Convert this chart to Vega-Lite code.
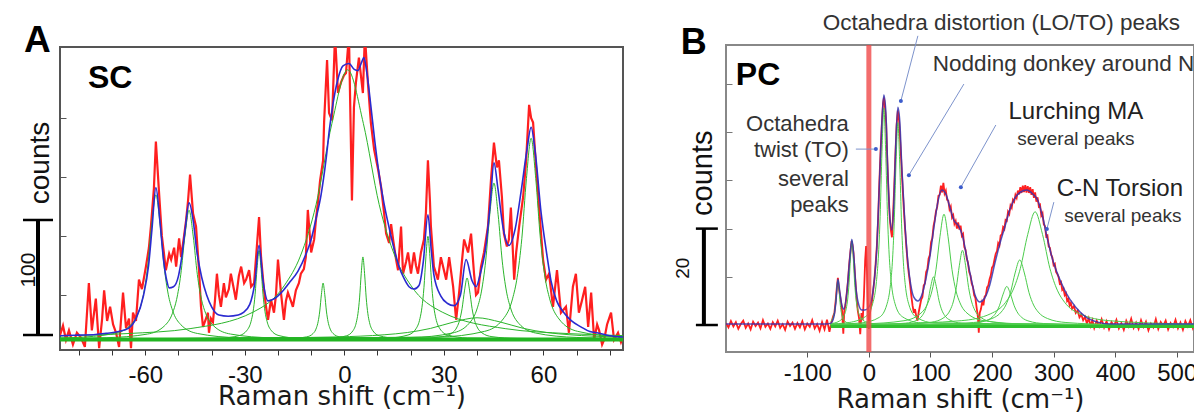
{
"$schema": "https://vega.github.io/schema/vega-lite/v6.json",
"padding": {"left": 17, "top": 10, "right": 0, "bottom": 0},
"bounds": "flush",
"spacing": 103,
"center": true,
"config": {"font": "Liberation Sans", "view": {"stroke": null}},
"datasets": {
"a_red": [{"x":-85.7,"y":16},{"x":-84.8,"y":24},{"x":-83.9,"y":12},{"x":-83.0,"y":20},{"x":-81.8,"y":8},{"x":-80.6,"y":18},{"x":-79.4,"y":14},{"x":-78.2,"y":6},{"x":-77.0,"y":60},{"x":-76.1,"y":20},{"x":-74.9,"y":47},{"x":-73.9,"y":5},{"x":-73.0,"y":30},{"x":-72.4,"y":54},{"x":-71.5,"y":28},{"x":-70.6,"y":40},{"x":-69.7,"y":25},{"x":-68.8,"y":18},{"x":-67.9,"y":6},{"x":-66.7,"y":52},{"x":-65.8,"y":22},{"x":-64.9,"y":30},{"x":-64.3,"y":5},{"x":-63.7,"y":35},{"x":-62.8,"y":28},{"x":-61.9,"y":63},{"x":-61.0,"y":55},{"x":-59.8,"y":74},{"x":-58.9,"y":90},{"x":-58.3,"y":108},{"x":-57.4,"y":140},{"x":-56.8,"y":180},{"x":-55.9,"y":139},{"x":-55.0,"y":100},{"x":-54.4,"y":86},{"x":-53.8,"y":71},{"x":-52.8,"y":85},{"x":-52.2,"y":80},{"x":-51.3,"y":90},{"x":-50.7,"y":74},{"x":-49.8,"y":98},{"x":-49.2,"y":82},{"x":-48.3,"y":100},{"x":-47.7,"y":113},{"x":-47.1,"y":130},{"x":-46.5,"y":152},{"x":-45.6,"y":119},{"x":-44.7,"y":108},{"x":-43.8,"y":71},{"x":-43.2,"y":40},{"x":-42.6,"y":23},{"x":-41.7,"y":30},{"x":-41.1,"y":35},{"x":-40.8,"y":18},{"x":-40.2,"y":30},{"x":-39.6,"y":27},{"x":-39.0,"y":45},{"x":-38.4,"y":68},{"x":-37.8,"y":50},{"x":-37.2,"y":40},{"x":-36.3,"y":60},{"x":-35.7,"y":48},{"x":-34.8,"y":55},{"x":-34.2,"y":68},{"x":-33.3,"y":55},{"x":-32.7,"y":46},{"x":-31.8,"y":66},{"x":-31.1,"y":74},{"x":-30.2,"y":60},{"x":-29.6,"y":63},{"x":-28.7,"y":71},{"x":-28.1,"y":57},{"x":-27.2,"y":60},{"x":-26.6,"y":82},{"x":-25.7,"y":116},{"x":-25.1,"y":82},{"x":-24.2,"y":54},{"x":-23.6,"y":40},{"x":-23.0,"y":29},{"x":-22.1,"y":46},{"x":-21.2,"y":35},{"x":-20.6,"y":50},{"x":-20.0,"y":80},{"x":-19.1,"y":52},{"x":-18.2,"y":29},{"x":-17.6,"y":45},{"x":-17.0,"y":52},{"x":-16.1,"y":45},{"x":-15.5,"y":40},{"x":-14.6,"y":54},{"x":-13.7,"y":60},{"x":-13.1,"y":68},{"x":-12.2,"y":72},{"x":-11.6,"y":82},{"x":-11.0,"y":122},{"x":-10.0,"y":86},{"x":-9.1,"y":97},{"x":-8.5,"y":115},{"x":-7.9,"y":130},{"x":-7.3,"y":147},{"x":-6.4,"y":164},{"x":-6.1,"y":196},{"x":-5.2,"y":249},{"x":-4.6,"y":204},{"x":-3.7,"y":198},{"x":-2.8,"y":270},{"x":-1.9,"y":221},{"x":-1.0,"y":230},{"x":-0.1,"y":236},{"x":0.5,"y":238},{"x":1.4,"y":270},{"x":2.3,"y":130},{"x":2.9,"y":209},{"x":3.5,"y":230},{"x":4.4,"y":251},{"x":5.6,"y":221},{"x":6.2,"y":270},{"x":7.1,"y":230},{"x":8.0,"y":196},{"x":9.0,"y":173},{"x":10.2,"y":156},{"x":11.1,"y":141},{"x":12.0,"y":119},{"x":12.6,"y":102},{"x":13.5,"y":94},{"x":14.1,"y":110},{"x":14.7,"y":97},{"x":15.6,"y":80},{"x":16.2,"y":71},{"x":17.1,"y":108},{"x":17.7,"y":68},{"x":18.6,"y":78},{"x":19.2,"y":86},{"x":20.1,"y":68},{"x":21.0,"y":86},{"x":21.6,"y":75},{"x":22.2,"y":68},{"x":23.1,"y":86},{"x":24.0,"y":97},{"x":24.6,"y":120},{"x":25.2,"y":164},{"x":25.8,"y":130},{"x":26.1,"y":108},{"x":27.0,"y":74},{"x":28.2,"y":63},{"x":29.1,"y":82},{"x":30.1,"y":70},{"x":30.7,"y":63},{"x":31.6,"y":82},{"x":32.8,"y":57},{"x":33.7,"y":29},{"x":34.6,"y":52},{"x":35.5,"y":80},{"x":36.1,"y":97},{"x":37.3,"y":86},{"x":38.2,"y":102},{"x":39.1,"y":68},{"x":39.7,"y":50},{"x":40.3,"y":52},{"x":41.2,"y":74},{"x":42.1,"y":86},{"x":43.3,"y":108},{"x":44.2,"y":147},{"x":45.1,"y":179},{"x":46.0,"y":158},{"x":46.6,"y":164},{"x":47.5,"y":133},{"x":48.1,"y":102},{"x":49.0,"y":91},{"x":49.6,"y":97},{"x":50.2,"y":124},{"x":51.2,"y":63},{"x":51.8,"y":86},{"x":52.7,"y":108},{"x":53.9,"y":133},{"x":54.8,"y":164},{"x":55.7,"y":211},{"x":56.3,"y":200},{"x":56.9,"y":196},{"x":57.8,"y":158},{"x":58.7,"y":124},{"x":59.9,"y":80},{"x":60.8,"y":63},{"x":61.7,"y":68},{"x":62.9,"y":40},{"x":64.1,"y":71},{"x":65.3,"y":35},{"x":66.8,"y":40},{"x":67.7,"y":18},{"x":68.9,"y":57},{"x":69.8,"y":68},{"x":70.7,"y":35},{"x":71.6,"y":45},{"x":72.6,"y":57},{"x":73.5,"y":23},{"x":74.4,"y":52},{"x":75.3,"y":12},{"x":76.2,"y":25},{"x":76.8,"y":20},{"x":77.7,"y":8},{"x":78.3,"y":12},{"x":79.2,"y":25},{"x":80.4,"y":35},{"x":81.3,"y":12},{"x":82.5,"y":18},{"x":83.4,"y":10},{"x":84.0,"y":14}],
"a_fit": [{"x":-85.7,"y":15.5},{"x":-80,"y":16},{"x":-75,"y":16.5},{"x":-71.8,"y":17.5},{"x":-68,"y":19},{"x":-65,"y":22},{"x":-62.8,"y":30},{"x":-60.5,"y":50},{"x":-59,"y":75},{"x":-58,"y":105},{"x":-56.8,"y":141},{"x":-55.5,"y":110},{"x":-54.5,"y":80},{"x":-53.5,"y":62},{"x":-52.8,"y":56},{"x":-51.5,"y":57},{"x":-50,"y":66},{"x":-49,"y":82},{"x":-48,"y":105},{"x":-46.8,"y":128},{"x":-45.5,"y":112},{"x":-44.5,"y":88},{"x":-43,"y":65},{"x":-41.5,"y":50},{"x":-40,"y":40},{"x":-37.8,"y":33},{"x":-35,"y":32},{"x":-32,"y":33},{"x":-30.5,"y":35},{"x":-28.5,"y":42},{"x":-27,"y":60},{"x":-25.7,"y":92},{"x":-24.5,"y":62},{"x":-23,"y":45},{"x":-21,"y":47},{"x":-19,"y":52},{"x":-16.7,"y":60},{"x":-14,"y":70},{"x":-11.5,"y":85},{"x":-10,"y":97},{"x":-8.5,"y":115},{"x":-7,"y":135},{"x":-5.5,"y":165},{"x":-4.5,"y":190},{"x":-3.4,"y":212},{"x":-2,"y":232},{"x":-0.4,"y":244},{"x":1.4,"y":246},{"x":3,"y":241},{"x":4.1,"y":240},{"x":5.2,"y":247},{"x":5.9,"y":251},{"x":6.8,"y":238},{"x":8,"y":210},{"x":9.2,"y":180},{"x":10.5,"y":152},{"x":12,"y":127},{"x":13.5,"y":107},{"x":15,"y":89},{"x":16.5,"y":74},{"x":18,"y":64},{"x":19.5,"y":57},{"x":21,"y":55},{"x":22.5,"y":58},{"x":23.8,"y":78},{"x":25.2,"y":118},{"x":26.2,"y":88},{"x":27,"y":67},{"x":29.1,"y":49},{"x":31,"y":43},{"x":33.1,"y":41},{"x":35,"y":50},{"x":36.7,"y":80},{"x":38.5,"y":62},{"x":39.7,"y":57},{"x":41,"y":68},{"x":42.7,"y":92},{"x":44,"y":128},{"x":45.1,"y":162},{"x":46.3,"y":140},{"x":47.8,"y":108},{"x":49.6,"y":92},{"x":51.5,"y":106},{"x":53.3,"y":138},{"x":55,"y":172},{"x":56.3,"y":192},{"x":57.5,"y":172},{"x":59.3,"y":120},{"x":61,"y":85},{"x":62.3,"y":62},{"x":64,"y":45},{"x":66.2,"y":35},{"x":68.5,"y":28},{"x":71.3,"y":23},{"x":74,"y":19},{"x":76.5,"y":17.8},{"x":80,"y":15.5},{"x":84,"y":14.4}],
"a_comp": [
{"c":"g1","x":-85.7,"y":13.6},{"c":"g1","x":-81.8,"y":13.9},{"c":"g1","x":-69.3,"y":17.4},{"c":"g1","x":-64.3,"y":24.9},{"c":"g1","x":-61.8,"y":37.1},{"c":"g1","x":-60.55,"y":50.2},{"c":"g1","x":-59.3,"y":73.7},{"c":"g1","x":-58.05,"y":110.3},{"c":"g1","x":-56.8,"y":134.7},{"c":"g1","x":-55.55,"y":110.3},{"c":"g1","x":-54.3,"y":73.7},{"c":"g1","x":-53.05,"y":50.2},{"c":"g1","x":-51.8,"y":37.1},{"c":"g1","x":-49.3,"y":24.9},{"c":"g1","x":-44.3,"y":17.4},{"c":"g1","x":-31.8,"y":13.9},{"c":"g1","x":84,"y":12.8},
{"c":"g2","x":-85.7,"y":13.2},{"c":"g2","x":-71.8,"y":13.8},{"c":"g2","x":-59.3,"y":16.9},{"c":"g2","x":-54.3,"y":23.6},{"c":"g2","x":-51.8,"y":34.5},{"c":"g2","x":-50.55,"y":46.2},{"c":"g2","x":-49.3,"y":67.2},{"c":"g2","x":-48.05,"y":99.9},{"c":"g2","x":-46.8,"y":121.7},{"c":"g2","x":-45.55,"y":99.9},{"c":"g2","x":-44.3,"y":67.2},{"c":"g2","x":-43.05,"y":46.2},{"c":"g2","x":-41.8,"y":34.5},{"c":"g2","x":-39.3,"y":23.6},{"c":"g2","x":-34.3,"y":16.9},{"c":"g2","x":-21.8,"y":13.8},{"c":"g2","x":84,"y":12.7},
{"c":"g3","x":-85.7,"y":12.7},{"c":"g3","x":-37.7,"y":13.4},{"c":"g3","x":-31.7,"y":15.6},{"c":"g3","x":-29.3,"y":20.2},{"c":"g3","x":-28.1,"y":27.7},{"c":"g3","x":-27.5,"y":35.8},{"c":"g3","x":-26.9,"y":50.2},{"c":"g3","x":-26.3,"y":72.7},{"c":"g3","x":-25.7,"y":87.7},{"c":"g3","x":-25.1,"y":72.7},{"c":"g3","x":-24.5,"y":50.2},{"c":"g3","x":-23.9,"y":35.8},{"c":"g3","x":-23.3,"y":27.7},{"c":"g3","x":-22.1,"y":20.2},{"c":"g3","x":-19.7,"y":15.6},{"c":"g3","x":-13.7,"y":13.4},{"c":"g3","x":84,"y":12.7},
{"c":"g4","x":-85.7,"y":15.4},{"c":"g4","x":-65.5,"y":17.3},{"c":"g4","x":-46.5,"y":21.5},{"c":"g4","x":-27.5,"y":35.5},{"c":"g4","x":-18,"y":58.3},{"c":"g4","x":-13.25,"y":82.9},{"c":"g4","x":-8.5,"y":126.7},{"c":"g4","x":-3.75,"y":195.1},{"c":"g4","x":1,"y":240.7},{"c":"g4","x":5.75,"y":195.1},{"c":"g4","x":10.5,"y":126.7},{"c":"g4","x":15.25,"y":82.9},{"c":"g4","x":20,"y":58.3},{"c":"g4","x":29.5,"y":35.5},{"c":"g4","x":48.5,"y":21.5},{"c":"g4","x":67.5,"y":17.3},{"c":"g4","x":84,"y":15.6},
{"c":"g5","x":-85.7,"y":12.7},{"c":"g5","x":-16.4,"y":13.2},{"c":"g5","x":-11.4,"y":14.5},{"c":"g5","x":-9.4,"y":17.4},{"c":"g5","x":-8.4,"y":22.2},{"c":"g5","x":-7.9,"y":27.3},{"c":"g5","x":-7.4,"y":36.4},{"c":"g5","x":-6.9,"y":50.6},{"c":"g5","x":-6.4,"y":60.1},{"c":"g5","x":-5.9,"y":50.6},{"c":"g5","x":-5.4,"y":36.4},{"c":"g5","x":-4.9,"y":27.3},{"c":"g5","x":-4.4,"y":22.2},{"c":"g5","x":-3.4,"y":17.4},{"c":"g5","x":-1.4,"y":14.5},{"c":"g5","x":3.6,"y":13.2},{"c":"g5","x":84,"y":12.7},
{"c":"g6","x":-85.7,"y":12.7},{"c":"g6","x":-4.4,"y":13.4},{"c":"g6","x":0.6,"y":15.4},{"c":"g6","x":2.6,"y":19.7},{"c":"g6","x":3.6,"y":26.6},{"c":"g6","x":4.1,"y":34.1},{"c":"g6","x":4.6,"y":47.5},{"c":"g6","x":5.1,"y":68.3},{"c":"g6","x":5.6,"y":82.2},{"c":"g6","x":6.1,"y":68.3},{"c":"g6","x":6.6,"y":47.5},{"c":"g6","x":7.1,"y":34.1},{"c":"g6","x":7.6,"y":26.6},{"c":"g6","x":8.6,"y":19.7},{"c":"g6","x":10.6,"y":15.4},{"c":"g6","x":15.6,"y":13.4},{"c":"g6","x":84,"y":12.7},
{"c":"g7","x":-85.7,"y":12.7},{"c":"g7","x":13.2,"y":13.6},{"c":"g7","x":19.2,"y":16.1},{"c":"g7","x":21.6,"y":21.4},{"c":"g7","x":22.8,"y":30.1},{"c":"g7","x":23.4,"y":39.5},{"c":"g7","x":24.0,"y":56.2},{"c":"g7","x":24.6,"y":82.3},{"c":"g7","x":25.2,"y":99.7},{"c":"g7","x":25.8,"y":82.3},{"c":"g7","x":26.4,"y":56.2},{"c":"g7","x":27.0,"y":39.5},{"c":"g7","x":27.6,"y":30.1},{"c":"g7","x":28.8,"y":21.4},{"c":"g7","x":31.2,"y":16.1},{"c":"g7","x":37.2,"y":13.6},{"c":"g7","x":84,"y":12.7},
{"c":"g8","x":-85.7,"y":12.7},{"c":"g8","x":22,"y":13.2},{"c":"g8","x":29.5,"y":14.7},{"c":"g8","x":32.5,"y":17.9},{"c":"g8","x":34,"y":23.0},{"c":"g8","x":34.75,"y":28.6},{"c":"g8","x":35.5,"y":38.6},{"c":"g8","x":36.25,"y":54.1},{"c":"g8","x":37,"y":64.4},{"c":"g8","x":37.75,"y":54.1},{"c":"g8","x":38.5,"y":38.6},{"c":"g8","x":39.25,"y":28.6},{"c":"g8","x":40,"y":23.0},{"c":"g8","x":41.5,"y":17.9},{"c":"g8","x":44.5,"y":14.7},{"c":"g8","x":52,"y":13.2},{"c":"g8","x":84,"y":12.7},
{"c":"g9","x":-85.7,"y":12.8},{"c":"g9","x":20.1,"y":14.0},{"c":"g9","x":32.6,"y":17.8},{"c":"g9","x":37.6,"y":25.9},{"c":"g9","x":40.1,"y":39.1},{"c":"g9","x":41.35,"y":53.3},{"c":"g9","x":42.6,"y":78.7},{"c":"g9","x":43.85,"y":118.3},{"c":"g9","x":45.1,"y":144.7},{"c":"g9","x":46.35,"y":118.3},{"c":"g9","x":47.6,"y":78.7},{"c":"g9","x":48.85,"y":53.3},{"c":"g9","x":50.1,"y":39.1},{"c":"g9","x":52.6,"y":25.9},{"c":"g9","x":57.6,"y":17.8},{"c":"g9","x":70.1,"y":14.0},{"c":"g9","x":84,"y":13.2},
{"c":"g10","x":-85.7,"y":12.9},{"c":"g10","x":28.3,"y":14.4},{"c":"g10","x":42.3,"y":19.2},{"c":"g10","x":47.9,"y":29.7},{"c":"g10","x":50.7,"y":46.7},{"c":"g10","x":52.1,"y":65.0},{"c":"g10","x":53.5,"y":97.7},{"c":"g10","x":54.9,"y":148.7},{"c":"g10","x":56.3,"y":182.7},{"c":"g10","x":57.7,"y":148.7},{"c":"g10","x":59.1,"y":97.7},{"c":"g10","x":60.5,"y":65.0},{"c":"g10","x":61.9,"y":46.7},{"c":"g10","x":64.7,"y":29.7},{"c":"g10","x":70.3,"y":19.2},{"c":"g10","x":84,"y":14.4},
{"c":"g11","x":-85.7,"y":12.9},{"c":"g11","x":-30,"y":13.4},{"c":"g11","x":-2,"y":14.5},{"c":"g11","x":12,"y":16.3},{"c":"g11","x":19,"y":18.2},{"c":"g11","x":26,"y":21.7},{"c":"g11","x":33,"y":27.1},{"c":"g11","x":40,"y":30.7},{"c":"g11","x":47,"y":27.1},{"c":"g11","x":54,"y":21.7},{"c":"g11","x":61,"y":18.2},{"c":"g11","x":68,"y":16.3},{"c":"g11","x":82,"y":14.5},{"c":"g11","x":84,"y":14.4}
],
"a_base": [{"x":-85.7,"y":12.2},{"x":84,"y":12.2}],
"a_bar": [{"x":-92.33,"y":16.1,"y2":113.5}],
"a_caps": [{"x":-96.85,"x2":-87.81,"y":16.1},{"x":-96.85,"x2":-87.81,"y":113.5}],
"a_big": [{"x":-96.55,"y":265.1,"t":"A"}],
"a_sc": [{"x":-77.26,"y":233.8,"t":"SC"}],
"a_counts": [{"x":-91.43,"y":161.8,"t":"counts"}],
"a_100": [{"x":-95.04,"y":71.1,"t":"100"}],
"b_red": [{"x":-232,"y":0.4},{"x":-228,"y":-0.5},{"x":-224,"y":0.8},{"x":-220,"y":-0.3},{"x":-216,"y":0.6},{"x":-212,"y":-0.8},{"x":-208,"y":0.2},{"x":-204,"y":0.9},{"x":-200,"y":-0.6},{"x":-196,"y":0.3},{"x":-192,"y":-0.9},{"x":-188,"y":0.7},{"x":-184,"y":-0.2},{"x":-180,"y":0.5},{"x":-176,"y":-0.7},{"x":-172,"y":1.0},{"x":-168,"y":-0.4},{"x":-164,"y":0.3},{"x":-160,"y":-0.8},{"x":-156,"y":0.6},{"x":-152,"y":-0.3},{"x":-148,"y":0.9},{"x":-144,"y":-0.6},{"x":-140,"y":0.2},{"x":-136,"y":-1.0},{"x":-132,"y":0.7},{"x":-128,"y":-0.2},{"x":-124,"y":0.5},{"x":-120,"y":-0.8},{"x":-116,"y":0.4},{"x":-112,"y":-0.5},{"x":-108,"y":0.8},{"x":-104,"y":-0.9},{"x":-100,"y":0.3},{"x":-96,"y":-0.4},{"x":-92,"y":1.0},{"x":-88,"y":-0.7},{"x":-84,"y":0.2},{"x":-80,"y":-1.2},{"x":-76,"y":0.6},{"x":-72,"y":-0.9},{"x":-68,"y":1.1},{"x":-64,"y":-1.4},{"x":-61,"y":0.5},{"x":-58,"y":1.8},{"x":-56,"y":2.5},{"x":-54,"y":4.9},{"x":-52,"y":7.8},{"x":-50.3,"y":9.8},{"x":-48.5,"y":7.5},{"x":-47,"y":6.3},{"x":-45,"y":4.6},{"x":-43.5,"y":3.0},{"x":-41.5,"y":-1.8},{"x":-40,"y":2.8},{"x":-38,"y":4.2},{"x":-36,"y":6.5},{"x":-34,"y":9.0},{"x":-32,"y":12.5},{"x":-30,"y":15.2},{"x":-28,"y":17.4},{"x":-26.5,"y":16.6},{"x":-25,"y":15.0},{"x":-23,"y":11.2},{"x":-21,"y":7.6},{"x":-19.5,"y":4.9},{"x":-18,"y":3.0},{"x":-16,"y":1.5},{"x":-14,"y":-1.9},{"x":-12,"y":2.5},{"x":-10,"y":1.0},{"x":-8,"y":6.0},{"x":-6,"y":13.5},{"x":-4.5,"y":16.4},{"x":-3,"y":11.0},{"x":-1.5,"y":3.5},{"x":0,"y":-0.8},{"x":1.5,"y":2.2},{"x":3,"y":3.5},{"x":5,"y":4.8},{"x":7,"y":7.2},{"x":9,"y":9.5},{"x":11,"y":12.8},{"x":13,"y":16.5},{"x":15,"y":22.0},{"x":17,"y":29.5},{"x":19,"y":36.0},{"x":21,"y":41.5},{"x":23,"y":46.0},{"x":24.5,"y":47.2},{"x":26,"y":45.5},{"x":28,"y":42.0},{"x":30,"y":34.0},{"x":32,"y":27.5},{"x":34,"y":22.0},{"x":36,"y":19.5},{"x":37.5,"y":18.2},{"x":39,"y":22.0},{"x":41,"y":28.0},{"x":43,"y":35.0},{"x":45,"y":41.5},{"x":47,"y":44.5},{"x":49,"y":42.5},{"x":51,"y":38.0},{"x":53,"y":33.0},{"x":55,"y":28.0},{"x":57,"y":23.5},{"x":59,"y":19.5},{"x":61,"y":16.0},{"x":63,"y":12.8},{"x":65,"y":10.5},{"x":67,"y":8.5},{"x":69,"y":6.0},{"x":71,"y":4.0},{"x":73,"y":2.5},{"x":75,"y":3.3},{"x":77,"y":1.8},{"x":79,"y":0.9},{"x":81,"y":2.7},{"x":83,"y":4.0},{"x":85,"y":5.3},{"x":87,"y":5.8},{"x":89,"y":8.2},{"x":91,"y":8.6},{"x":93,"y":11.0},{"x":95,"y":11.6},{"x":97,"y":13.8},{"x":99,"y":14.5},{"x":101,"y":17.2},{"x":103,"y":18.0},{"x":105,"y":20.5},{"x":107,"y":21.8},{"x":109,"y":23.6},{"x":111,"y":24.5},{"x":113,"y":26.8},{"x":115,"y":27.0},{"x":117,"y":28.9},{"x":119,"y":27.5},{"x":121,"y":29.5},{"x":123,"y":27.3},{"x":125,"y":27.9},{"x":127,"y":26.0},{"x":129,"y":25.8},{"x":131,"y":24.0},{"x":133,"y":24.6},{"x":135,"y":22.3},{"x":137,"y":22.8},{"x":139,"y":21.0},{"x":141,"y":21.6},{"x":143,"y":20.0},{"x":145,"y":21.3},{"x":147,"y":19.8},{"x":149,"y":20.6},{"x":151,"y":18.5},{"x":153,"y":18.9},{"x":155,"y":16.2},{"x":157,"y":15.6},{"x":159,"y":13.8},{"x":161,"y":12.9},{"x":163,"y":11.0},{"x":165,"y":10.3},{"x":167,"y":8.6},{"x":169,"y":7.9},{"x":171,"y":6.2},{"x":173,"y":5.6},{"x":175,"y":3.6},{"x":177,"y":1.8},{"x":178.5,"y":-1.6},{"x":180,"y":2.5},{"x":182,"y":3.3},{"x":184,"y":4.8},{"x":186,"y":4.1},{"x":188,"y":5.9},{"x":190,"y":6.2},{"x":192,"y":7.8},{"x":194,"y":8.2},{"x":196,"y":9.5},{"x":198,"y":10.3},{"x":200,"y":11.9},{"x":202,"y":12.3},{"x":204,"y":13.6},{"x":206,"y":14.8},{"x":208,"y":15.3},{"x":210,"y":17.0},{"x":212,"y":16.5},{"x":214,"y":18.6},{"x":216,"y":18.8},{"x":218,"y":20.3},{"x":220,"y":19.9},{"x":222,"y":21.8},{"x":224,"y":21.6},{"x":226,"y":23.5},{"x":228,"y":23.0},{"x":230,"y":24.8},{"x":232,"y":24.3},{"x":234,"y":26.0},{"x":236,"y":25.6},{"x":238,"y":27.0},{"x":240,"y":26.4},{"x":242,"y":27.9},{"x":244,"y":27.1},{"x":246,"y":28.6},{"x":248,"y":27.4},{"x":250,"y":28.9},{"x":252,"y":27.6},{"x":254,"y":29.0},{"x":256,"y":27.5},{"x":258,"y":28.8},{"x":260,"y":27.4},{"x":262,"y":28.6},{"x":264,"y":27.0},{"x":266,"y":28.2},{"x":268,"y":26.4},{"x":270,"y":27.5},{"x":272,"y":25.6},{"x":274,"y":26.5},{"x":276,"y":24.6},{"x":278,"y":24.9},{"x":280,"y":22.7},{"x":282,"y":23.2},{"x":284,"y":20.9},{"x":286,"y":20.5},{"x":288,"y":18.4},{"x":290,"y":18.6},{"x":292,"y":16.3},{"x":294,"y":16.0},{"x":296,"y":14.6},{"x":298,"y":14.0},{"x":300,"y":12.4},{"x":302,"y":12.7},{"x":304,"y":11.0},{"x":306,"y":10.6},{"x":308,"y":10.0},{"x":310,"y":8.6},{"x":312,"y":8.9},{"x":314,"y":7.3},{"x":316,"y":7.6},{"x":318,"y":6.2},{"x":320,"y":6.6},{"x":322,"y":5.0},{"x":324,"y":5.4},{"x":326,"y":4.1},{"x":328,"y":4.6},{"x":330,"y":3.4},{"x":333,"y":3.9},{"x":336,"y":2.5},{"x":339,"y":3.0},{"x":342,"y":1.6},{"x":345,"y":2.2},{"x":348,"y":1.0},{"x":351,"y":1.7},{"x":354,"y":0.3},{"x":357,"y":1.4},{"x":360,"y":-0.2},{"x":363,"y":1.0},{"x":366,"y":-0.6},{"x":370,"y":0.9},{"x":374,"y":-0.3},{"x":378,"y":1.2},{"x":382,"y":-0.5},{"x":386,"y":0.8},{"x":390,"y":-0.9},{"x":394,"y":0.6},{"x":398,"y":-0.2},{"x":402,"y":1.1},{"x":406,"y":-0.7},{"x":410,"y":0.4},{"x":414,"y":-1.0},{"x":418,"y":0.9},{"x":422,"y":-0.3},{"x":426,"y":1.3},{"x":430,"y":-0.6},{"x":434,"y":0.5},{"x":438,"y":-0.8},{"x":442,"y":1.0},{"x":446,"y":-0.4},{"x":450,"y":0.7},{"x":454,"y":-1.1},{"x":458,"y":0.3},{"x":462,"y":-0.5},{"x":466,"y":1.2},{"x":470,"y":-0.8},{"x":474,"y":0.6},{"x":478,"y":-0.2},{"x":482,"y":0.9},{"x":486,"y":-0.9},{"x":490,"y":0.4},{"x":494,"y":-0.4},{"x":498,"y":1.1},{"x":502,"y":-0.7},{"x":506,"y":0.5},{"x":510,"y":-1.0},{"x":514,"y":0.8},{"x":518,"y":-0.3},{"x":522,"y":1.0},{"x":526,"y":-0.6},{"x":528,"y":0.3}],
"b_fit": [{"x":-232,"y":0.2},{"x":-150,"y":0.2},{"x":-69.8,"y":0.2},{"x":-61.7,"y":0.4},{"x":-56.8,"y":1.7},{"x":-53.5,"y":4.8},{"x":-50.3,"y":9.5},{"x":-47.1,"y":6.8},{"x":-43.8,"y":4.1},{"x":-40.6,"y":3.3},{"x":-35.7,"y":6.8},{"x":-30.8,"y":14.1},{"x":-27.6,"y":17.8},{"x":-24.3,"y":14.1},{"x":-21.1,"y":7.9},{"x":-16.2,"y":4.1},{"x":-11.4,"y":3.1},{"x":-6.5,"y":3.1},{"x":0,"y":3.7},{"x":6.5,"y":6.8},{"x":13.0,"y":16.2},{"x":17.8,"y":31.7},{"x":21.1,"y":42.1},{"x":24.3,"y":47.7},{"x":27.6,"y":44.2},{"x":30.8,"y":31.7},{"x":34.1,"y":22.4},{"x":37.3,"y":19.7},{"x":40.6,"y":25.5},{"x":43.8,"y":38.0},{"x":47.1,"y":45.2},{"x":50.3,"y":42.1},{"x":53.5,"y":32.8},{"x":58.4,"y":21.4},{"x":63.3,"y":13.1},{"x":68.1,"y":8.3},{"x":73.0,"y":5.8},{"x":79.5,"y":5.0},{"x":86.0,"y":6.2},{"x":92.5,"y":9.5},{"x":99.0,"y":14.1},{"x":105.5,"y":20.1},{"x":112.0,"y":25.5},{"x":118.4,"y":28.0},{"x":124.9,"y":27.2},{"x":131.4,"y":24.5},{"x":137.9,"y":21.8},{"x":146.0,"y":20.5},{"x":152.5,"y":18.3},{"x":159.0,"y":14.1},{"x":165.5,"y":10.0},{"x":172.0,"y":6.4},{"x":180.1,"y":4.8},{"x":188.2,"y":5.6},{"x":196.3,"y":8.3},{"x":204.4,"y":12.7},{"x":212.6,"y":16.8},{"x":220.7,"y":20.3},{"x":228.8,"y":23.9},{"x":236.9,"y":26.3},{"x":246.6,"y":27.6},{"x":256.4,"y":28.0},{"x":266.1,"y":27.2},{"x":274.2,"y":25.9},{"x":282.3,"y":22.4},{"x":290.4,"y":17.6},{"x":298.6,"y":13.5},{"x":308.3,"y":10.0},{"x":319.7,"y":6.8},{"x":335.9,"y":3.7},{"x":352.1,"y":1.7},{"x":371.6,"y":0.6},{"x":392.7,"y":0.2},{"x":528,"y":0.2}],
"b_comp": [
{"c":"b1","x":-62,"y":0.76},{"c":"b1","x":-60.8,"y":0.93},{"c":"b1","x":-57.3,"y":1.86},{"c":"b1","x":-55.55,"y":2.86},{"c":"b1","x":-53.8,"y":4.65},{"c":"b1","x":-52.05,"y":7.44},{"c":"b1","x":-50.3,"y":9.3},{"c":"b1","x":-48.55,"y":7.44},{"c":"b1","x":-46.8,"y":4.65},{"c":"b1","x":-45.05,"y":2.86},{"c":"b1","x":-43.3,"y":1.86},{"c":"b1","x":-39.8,"y":0.93},{"c":"b1","x":-32.8,"y":0.36},{"c":"b1","x":-15.3,"y":0.09},{"c":"b1","x":528,"y":0},
{"c":"b2","x":-62,"y":0.29},{"c":"b2","x":-50.1,"y":0.67},{"c":"b2","x":-41.1,"y":1.75},{"c":"b2","x":-36.6,"y":3.5},{"c":"b2","x":-34.35,"y":5.38},{"c":"b2","x":-32.1,"y":8.75},{"c":"b2","x":-29.85,"y":14},{"c":"b2","x":-27.6,"y":17.5},{"c":"b2","x":-25.35,"y":14},{"c":"b2","x":-23.1,"y":8.75},{"c":"b2","x":-20.85,"y":5.38},{"c":"b2","x":-18.6,"y":3.5},{"c":"b2","x":-14.1,"y":1.75},{"c":"b2","x":-5.1,"y":0.67},{"c":"b2","x":17.4,"y":0.17},{"c":"b2","x":528,"y":0},
{"c":"b3","x":-62,"y":0.22},{"c":"b3","x":-35.7,"y":0.45},{"c":"b3","x":-5.7,"y":1.73},{"c":"b3","x":6.3,"y":4.5},{"c":"b3","x":12.3,"y":9},{"c":"b3","x":15.3,"y":13.85},{"c":"b3","x":18.3,"y":22.5},{"c":"b3","x":21.3,"y":36},{"c":"b3","x":24.3,"y":45},{"c":"b3","x":27.3,"y":36},{"c":"b3","x":30.3,"y":22.5},{"c":"b3","x":33.3,"y":13.85},{"c":"b3","x":36.3,"y":9},{"c":"b3","x":42.3,"y":4.5},{"c":"b3","x":54.3,"y":1.73},{"c":"b3","x":84.3,"y":0.45},{"c":"b3","x":528,"y":0},
{"c":"b4","x":-62,"y":0.13},{"c":"b4","x":-12.9,"y":0.42},{"c":"b4","x":17.1,"y":1.6},{"c":"b4","x":29.1,"y":4.2},{"c":"b4","x":35.1,"y":8.4},{"c":"b4","x":38.1,"y":12.9},{"c":"b4","x":41.1,"y":21},{"c":"b4","x":44.1,"y":33.6},{"c":"b4","x":47.1,"y":42},{"c":"b4","x":50.1,"y":33.6},{"c":"b4","x":53.1,"y":21},{"c":"b4","x":56.1,"y":12.9},{"c":"b4","x":59.1,"y":8.4},{"c":"b4","x":65.1,"y":4.2},{"c":"b4","x":77.1,"y":1.6},{"c":"b4","x":107.1,"y":0.42},{"c":"b4","x":528,"y":0},
{"c":"b5","x":-62,"y":0.03},{"c":"b5","x":15,"y":0.1},{"c":"b5","x":60,"y":0.385},{"c":"b5","x":78,"y":1},{"c":"b5","x":87,"y":2},{"c":"b5","x":91.5,"y":3.08},{"c":"b5","x":96,"y":5},{"c":"b5","x":100.5,"y":8},{"c":"b5","x":105,"y":10},{"c":"b5","x":109.5,"y":8},{"c":"b5","x":114,"y":5},{"c":"b5","x":118.5,"y":3.08},{"c":"b5","x":123,"y":2},{"c":"b5","x":132,"y":1},{"c":"b5","x":150,"y":0.385},{"c":"b5","x":195,"y":0.1},{"c":"b5","x":528,"y":0},
{"c":"b6","x":-62,"y":0.11},{"c":"b6","x":-8,"y":0.23},{"c":"b6","x":57,"y":0.89},{"c":"b6","x":83,"y":2.3},{"c":"b6","x":96,"y":4.6},{"c":"b6","x":102.5,"y":7.08},{"c":"b6","x":109,"y":11.5},{"c":"b6","x":115.5,"y":18.4},{"c":"b6","x":122,"y":23},{"c":"b6","x":128.5,"y":18.4},{"c":"b6","x":135,"y":11.5},{"c":"b6","x":141.5,"y":7.08},{"c":"b6","x":148,"y":4.6},{"c":"b6","x":161,"y":2.3},{"c":"b6","x":187,"y":0.89},{"c":"b6","x":252,"y":0.23},{"c":"b6","x":528,"y":0},
{"c":"b7","x":-62,"y":0.03},{"c":"b7","x":52,"y":0.155},{"c":"b7","x":102,"y":0.6},{"c":"b7","x":122,"y":1.55},{"c":"b7","x":132,"y":3.1},{"c":"b7","x":137,"y":4.77},{"c":"b7","x":142,"y":7.75},{"c":"b7","x":147,"y":12.4},{"c":"b7","x":152,"y":15.5},{"c":"b7","x":157,"y":12.4},{"c":"b7","x":162,"y":7.75},{"c":"b7","x":167,"y":4.77},{"c":"b7","x":172,"y":3.1},{"c":"b7","x":182,"y":1.55},{"c":"b7","x":202,"y":0.6},{"c":"b7","x":252,"y":0.155},{"c":"b7","x":528,"y":0},
{"c":"b8","x":-62,"y":0.01},{"c":"b8","x":104,"y":0.08},{"c":"b8","x":164,"y":0.31},{"c":"b8","x":188,"y":0.8},{"c":"b8","x":200,"y":1.6},{"c":"b8","x":206,"y":2.46},{"c":"b8","x":212,"y":4},{"c":"b8","x":218,"y":6.4},{"c":"b8","x":224,"y":8},{"c":"b8","x":230,"y":6.4},{"c":"b8","x":236,"y":4},{"c":"b8","x":242,"y":2.46},{"c":"b8","x":248,"y":1.6},{"c":"b8","x":260,"y":0.8},{"c":"b8","x":284,"y":0.31},{"c":"b8","x":344,"y":0.08},{"c":"b8","x":528,"y":0},
{"c":"b9","x":-62,"y":0.03},{"c":"b9","x":95,"y":0.13},{"c":"b9","x":170,"y":0.52},{"c":"b9","x":200,"y":1.35},{"c":"b9","x":215,"y":2.7},{"c":"b9","x":222.5,"y":4.15},{"c":"b9","x":230,"y":6.75},{"c":"b9","x":237.5,"y":10.8},{"c":"b9","x":245,"y":13.5},{"c":"b9","x":252.5,"y":10.8},{"c":"b9","x":260,"y":6.75},{"c":"b9","x":267.5,"y":4.15},{"c":"b9","x":275,"y":2.7},{"c":"b9","x":290,"y":1.35},{"c":"b9","x":320,"y":0.52},{"c":"b9","x":395,"y":0.13},{"c":"b9","x":528,"y":0.03},
{"c":"b10","x":-62,"y":0.12},{"c":"b10","x":30,"y":0.235},{"c":"b10","x":150,"y":0.9},{"c":"b10","x":198,"y":2.35},{"c":"b10","x":222,"y":4.7},{"c":"b10","x":234,"y":7.23},{"c":"b10","x":246,"y":11.75},{"c":"b10","x":258,"y":18.8},{"c":"b10","x":270,"y":23.5},{"c":"b10","x":282,"y":18.8},{"c":"b10","x":294,"y":11.75},{"c":"b10","x":306,"y":7.23},{"c":"b10","x":318,"y":4.7},{"c":"b10","x":342,"y":2.35},{"c":"b10","x":390,"y":0.9},{"c":"b10","x":510,"y":0.235},{"c":"b10","x":528,"y":0.2}
],
"b_base": [{"x":-62,"y":-0.3},{"x":528,"y":-0.3}],
"b_laser": [{"x":0,"y":-5.6,"y2":58.1}],
"b_bar": [{"x":-267.9,"y":0,"y2":20}],
"b_caps": [{"x":-280.9,"x2":-245.2,"y":0},{"x":-280.9,"x2":-245.2,"y":20}],
"b_arrows": [{"x":79.6,"y":60.0,"x2":52.0,"y2":46.5},{"x":154.3,"y":50.0,"x2":65.0,"y2":31.1},{"x":206.2,"y":41.5,"x2":149.4,"y2":28.6},{"x":300.4,"y":25.5,"x2":289.1,"y2":19.9},{"x":-21.1,"y":36.5,"x2":11.4,"y2":36.5}],
"b_heads": [{"x":52.0,"y":46.5},{"x":65.0,"y":31.1},{"x":149.4,"y":28.6},{"x":289.1,"y":19.9},{"x":11.4,"y":36.5}],
"b_big": [{"x":-305.3,"y":58.5,"t":"B"}],
"b_pc": [{"x":-216.0,"y":51.9,"t":"PC"}],
"b_left": [{"x":-75,"y":62.7,"t":"Octahedra distortion (LO/TO) peaks"},{"x":103.9,"y":54.1,"t":"Nodding donkey around N"}],
"b_head": [{"x":336.1,"y":44.2,"t":"Lurching MA"},{"x":407.6,"y":28.2,"t":"C-N Torsion"}],
"b_sub": [{"x":336.1,"y":38.6,"t":"several peaks"},{"x":412.5,"y":22.6,"t":"several peaks"}],
"b_twist": [{"x":-32.5,"y":41.7,"t":"Octahedra"},{"x":-32.5,"y":36.3,"t":"twist (TO)"},{"x":-32.5,"y":30.3,"t":"several"},{"x":-32.5,"y":24.9,"t":"peaks"}],
"b_counts": [{"x":-269.6,"y":31.5,"t":"counts"}],
"b_20": [{"x":-302.0,"y":11.8,"t":"20"}]
},
"hconcat": [
{
"width": 563, "height": 303,
"view": {"stroke": "#555", "strokeWidth": 2},
"encoding": {
 "x": {"field": "x", "type": "quantitative", "scale": {"domain": [-85.7, 84], "nice": false, "zero": false},
   "axis": {"values": [-80,-70,-60,-50,-40,-30,-20,-10,0,10,20,30,40,50,60,70,80], "labelExpr": "datum.value % 30 == 0 ? replace(datum.label, '\u2212', '-') : ''", "labelOverlap": false, "labelFlush": false, "title": "Raman shift (cm\u207b\u00b9)", "grid": false, "domain": false, "tickSize": 5, "tickColor": "#333", "labelFontSize": 24, "labelPadding": 8, "labelColor": "#111", "labelFont": "Liberation Sans", "titleFont": "DejaVu Sans", "titleFontSize": 26, "titleFontWeight": "normal", "titleColor": "#1a1a1a", "titlePadding": -4}},
 "y": {"field": "y", "type": "quantitative", "scale": {"domain": [3.4, 260], "nice": false, "zero": false},
   "axis": {"values": [50,100,150,200], "labels": false, "title": null, "grid": false, "domain": false, "tickSize": -6, "tickColor": "#555"}}
},
"layer": [
 {"data": {"name": "a_red"}, "mark": {"type": "line", "color": "#ff1f1f", "strokeWidth": 2.2, "clip": true}},
 {"data": {"name": "a_comp"}, "mark": {"type": "line", "interpolate": "monotone", "color": "#2bb52b", "strokeWidth": 1, "clip": true}, "encoding": {"detail": {"field": "c"}}},
 {"data": {"name": "a_base"}, "mark": {"type": "line", "color": "#22b522", "strokeWidth": 4, "clip": true}},
 {"data": {"name": "a_fit"}, "mark": {"type": "line", "interpolate": "monotone", "color": "#2a2ad0", "strokeWidth": 1.6, "clip": true}},
 {"data": {"name": "a_bar"}, "mark": {"type": "rule", "color": "#000", "strokeWidth": 4}, "encoding": {"y2": {"field": "y2"}}},
 {"data": {"name": "a_caps"}, "mark": {"type": "rule", "color": "#000", "strokeWidth": 2.5}, "encoding": {"x2": {"field": "x2"}}},
 {"data": {"name": "a_big"}, "mark": {"type": "text", "align": "left", "baseline": "middle", "fontSize": 37, "fontWeight": "bold", "color": "#000", "font": "Liberation Sans"}, "encoding": {"text": {"field": "t"}}},
 {"data": {"name": "a_sc"}, "mark": {"type": "text", "align": "left", "baseline": "middle", "fontSize": 32, "fontWeight": "bold", "color": "#000", "font": "Liberation Sans"}, "encoding": {"text": {"field": "t"}}},
 {"data": {"name": "a_counts"}, "mark": {"type": "text", "align": "center", "baseline": "middle", "angle": 270, "fontSize": 28, "color": "#111", "font": "Liberation Sans"}, "encoding": {"text": {"field": "t"}}},
 {"data": {"name": "a_100"}, "mark": {"type": "text", "align": "center", "baseline": "middle", "angle": 270, "fontSize": 21, "color": "#111", "font": "Liberation Sans"}, "encoding": {"text": {"field": "t"}}}
]
},
{
"width": 468, "height": 307,
"view": {"stroke": "#888", "strokeWidth": 2},
"encoding": {
 "x": {"field": "x", "type": "quantitative", "scale": {"domain": [-232, 528], "nice": false, "zero": false},
   "axis": {"values": [-100,0,100,200,300,400,500], "labelExpr": "replace(datum.label, '\u2212', '-')", "labelOverlap": false, "labelFlush": false, "title": "Raman shift (cm\u207b\u00b9)", "grid": false, "domain": false, "tickSize": 5, "tickColor": "#555", "labelFontSize": 24, "labelPadding": 4, "labelColor": "#111", "labelFont": "Liberation Sans", "titleFont": "DejaVu Sans", "titleFontSize": 26, "titleFontWeight": "normal", "titleColor": "#1a1a1a", "titlePadding": 1}},
 "y": {"field": "y", "type": "quantitative", "scale": {"domain": [-5.6, 58.1], "nice": false, "zero": false},
   "axis": {"values": [10,20,30,40,50], "labels": false, "title": null, "grid": false, "domain": false, "tickSize": -6, "tickColor": "#777"}}
},
"layer": [
 {"data": {"name": "b_red"}, "mark": {"type": "line", "color": "#ff2020", "strokeWidth": 1.8, "clip": true}},
 {"data": {"name": "b_comp"}, "mark": {"type": "line", "interpolate": "monotone", "color": "#4ccc4c", "strokeWidth": 1, "clip": true}, "encoding": {"detail": {"field": "c"}}},
 {"data": {"name": "b_base"}, "mark": {"type": "line", "color": "#2fbf2f", "strokeWidth": 3, "clip": true}},
 {"data": {"name": "b_fit"}, "mark": {"type": "line", "interpolate": "monotone", "color": "#3434b0", "strokeWidth": 1.5, "opacity": 0.85, "clip": true}},
 {"data": {"name": "b_laser"}, "mark": {"type": "rule", "color": "#f04848", "strokeWidth": 5, "opacity": 0.8}, "encoding": {"y2": {"field": "y2"}}},
 {"data": {"name": "b_bar"}, "mark": {"type": "rule", "color": "#000", "strokeWidth": 4}, "encoding": {"y2": {"field": "y2"}}},
 {"data": {"name": "b_caps"}, "mark": {"type": "rule", "color": "#000", "strokeWidth": 2.5}, "encoding": {"x2": {"field": "x2"}}},
 {"data": {"name": "b_arrows"}, "mark": {"type": "rule", "color": "#7d93cc", "strokeWidth": 1}, "encoding": {"x2": {"field": "x2"}, "y2": {"field": "y2"}}},
 {"data": {"name": "b_heads"}, "mark": {"type": "point", "shape": "circle", "filled": true, "size": 16, "color": "#3c5ccc", "opacity": 1}},
 {"data": {"name": "b_big"}, "mark": {"type": "text", "align": "left", "baseline": "middle", "fontSize": 36, "fontWeight": "bold", "color": "#000", "font": "Liberation Sans"}, "encoding": {"text": {"field": "t"}}},
 {"data": {"name": "b_pc"}, "mark": {"type": "text", "align": "left", "baseline": "middle", "fontSize": 32, "fontWeight": "bold", "color": "#000", "font": "Liberation Sans"}, "encoding": {"text": {"field": "t"}}},
 {"data": {"name": "b_left"}, "mark": {"type": "text", "align": "left", "baseline": "middle", "fontSize": 22.5, "color": "#333", "font": "Liberation Sans"}, "encoding": {"text": {"field": "t"}}},
 {"data": {"name": "b_head"}, "mark": {"type": "text", "align": "center", "baseline": "middle", "fontSize": 24, "color": "#222", "font": "Liberation Sans"}, "encoding": {"text": {"field": "t"}}},
 {"data": {"name": "b_sub"}, "mark": {"type": "text", "align": "center", "baseline": "middle", "fontSize": 19, "color": "#333", "font": "Liberation Sans"}, "encoding": {"text": {"field": "t"}}},
 {"data": {"name": "b_twist"}, "mark": {"type": "text", "align": "right", "baseline": "middle", "fontSize": 22, "color": "#333", "font": "Liberation Sans"}, "encoding": {"text": {"field": "t"}}},
 {"data": {"name": "b_counts"}, "mark": {"type": "text", "align": "center", "baseline": "middle", "angle": 270, "fontSize": 29, "color": "#111", "font": "Liberation Sans"}, "encoding": {"text": {"field": "t"}}},
 {"data": {"name": "b_20"}, "mark": {"type": "text", "align": "center", "baseline": "middle", "angle": 270, "fontSize": 19, "color": "#111", "font": "Liberation Sans"}, "encoding": {"text": {"field": "t"}}}
]
}
]
}
